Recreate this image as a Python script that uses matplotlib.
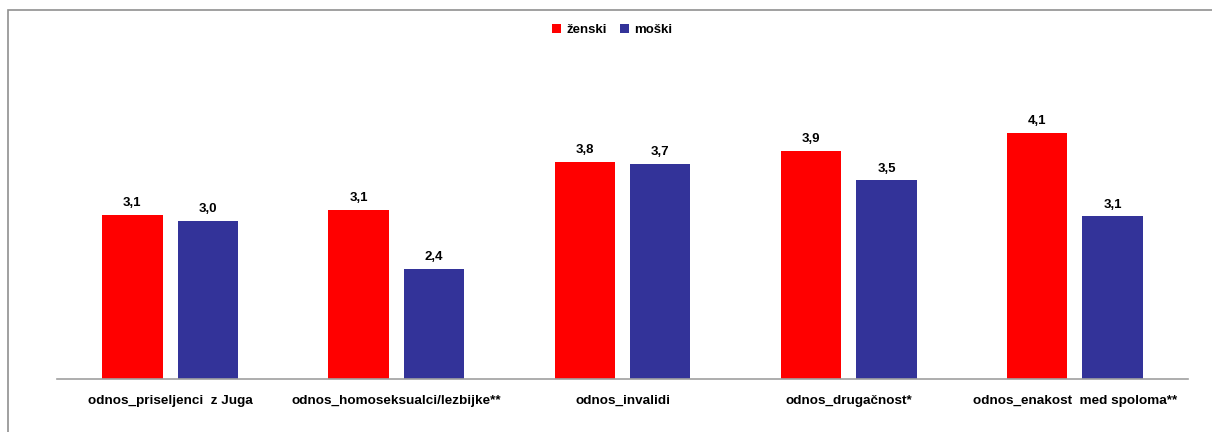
import matplotlib
matplotlib.use("Agg")
import matplotlib.pyplot as plt
from matplotlib.patches import Rectangle
import numpy as np

categories = ["odnos_priseljenci  z Juga", "odnos_homoseksualci/lezbijke**", "odnos_invalidi",
              "odnos_drugačnost*", "odnos_enakost  med spoloma**"]
zenski = [3.09, 3.15, 3.76, 3.90, 4.13]
moski = [3.01, 2.40, 3.74, 3.53, 3.07]
series_names = ["ženski", "moški"]

plt.rcParams['font.family'] = ['Liberation Sans', 'DejaVu Sans']

fig = plt.figure(figsize=(12.12, 4.32), dpi=100)
ax = fig.add_axes([57/1212, 53/432, (1188-57)/1212, (379-64.5)/432])

x = np.arange(len(categories))
w = 0.267
off = 0.167
b1 = ax.bar(x - off, np.array(zenski) - 1, w, bottom=1, color="#FF0000", label=series_names[0])
b2 = ax.bar(x + off, np.array(moski) - 1, w, bottom=1, color="#333399", label=series_names[1])

for bars, vals in ((b1, zenski), (b2, moski)):
    for r, v in zip(bars, vals):
        ax.annotate(f"{v:.1f}".replace(".", ","), (r.get_x() + r.get_width()/2, v),
                    xytext=(0, 4), textcoords="offset points", ha="center", va="bottom",
                    fontsize=9.5, fontweight="bold")

ax.set_xlim(-0.5, len(categories) - 0.5)
ax.set_ylim(1, 5)
for s in ["top", "right", "left"]:
    ax.spines[s].set_visible(False)
ax.spines["bottom"].set_color("#a0a0a0")
ax.spines["bottom"].set_linewidth(1.2)
ax.set_yticks([])
ax.set_xticks([])

for xi, c in zip(x, categories):
    ax.annotate(c, (xi, 1), xytext=(0, -16), textcoords="offset points",
                ha="center", va="center", fontsize=9.7, fontweight="bold")

leg = fig.legend(handles=[b1, b2], loc="center", bbox_to_anchor=(612/1212, 1 - 30/432),
                 ncol=2, frameon=False, handlelength=0.7, handleheight=0.7,
                 handletextpad=0.4, columnspacing=1.0, prop={"weight": "bold", "size": 9.5})

fig.patches.append(Rectangle((8/1212, -0.1), 1.2, 1 - 10.5/432 + 0.1, transform=fig.transFigure,
                             fill=False, edgecolor="#909090", linewidth=1.2))

fig.savefig("out.png", dpi=100)
